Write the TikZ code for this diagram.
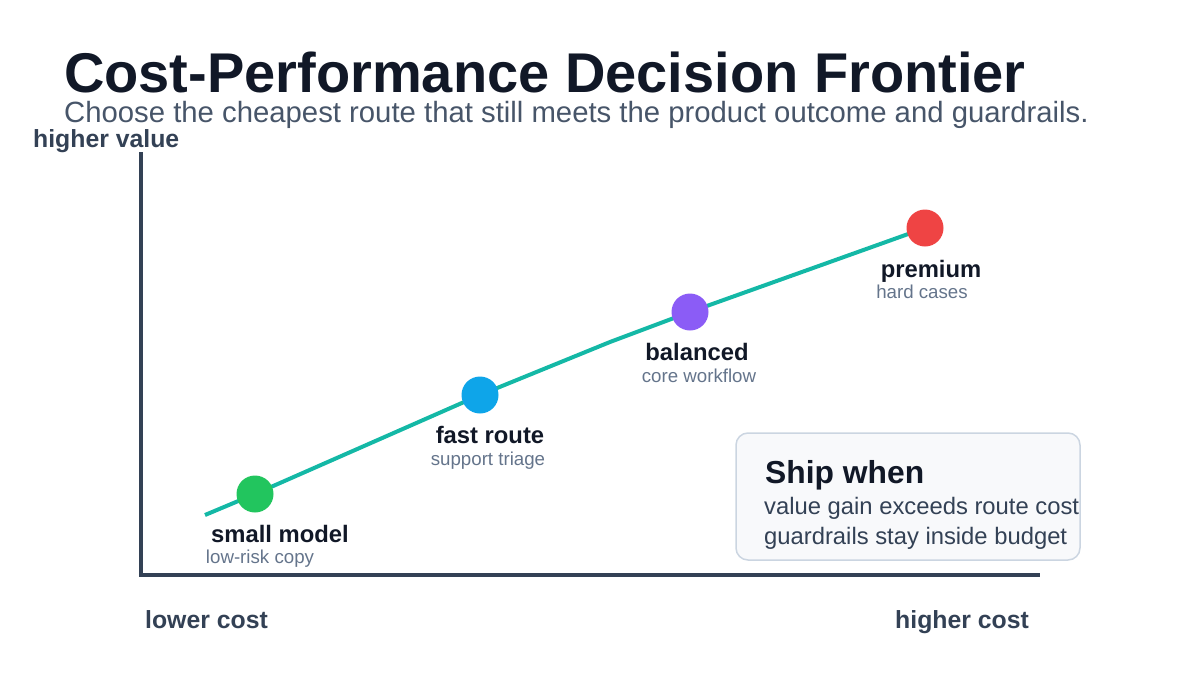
\documentclass[tikz,border=0pt]{standalone}
\usepackage{fontspec}
\setmainfont{Liberation Sans}
\usetikzlibrary{positioning}
\definecolor{ink}{HTML}{111827}
\definecolor{slate}{HTML}{475569}
\definecolor{axis}{HTML}{334155}
\definecolor{muted}{HTML}{64748B}
\definecolor{teal}{HTML}{14B8A6}
\definecolor{boxfill}{HTML}{F8F9FB}
\definecolor{boxline}{HTML}{CBD5E1}
\definecolor{smallc}{HTML}{22C55E}
\definecolor{fastc}{HTML}{0EA5E9}
\definecolor{balc}{HTML}{8B5CF6}
\definecolor{premc}{HTML}{EF4444}
\tikzset{
  dot/.style={circle, inner sep=0pt, minimum size=37pt, fill=#1},
  route/.style={font=\fontsize{23.8}{27}\selectfont\bfseries, text=ink, inner sep=0pt, anchor=base},
  note/.style={font=\fontsize{18.7}{22}\selectfont, text=muted, inner sep=0pt, anchor=base},
  axislabel/.style={font=\fontsize{24.8}{29}\selectfont\bfseries, text=axis, inner sep=0pt, anchor=base west}
}
\begin{document}
\begin{tikzpicture}[x=1pt, y=-1pt]
    \useasboundingbox (0,0) rectangle (1200,675);
    % title
    \node[inner sep=0pt, anchor=base west, text=ink, font=\fontsize{56}{64}\selectfont\bfseries] (title) at (64,92) {Cost-Performance Decision Frontier};
    \node[inner sep=0pt, anchor=base west, text=slate, font=\fontsize{29.3}{34}\selectfont] (subtitle) at (64,122) {Choose the cheapest route that still meets the product outcome and guardrails.};
    % axes
    \coordinate (top) at (141,152);
    \coordinate (origin) at (141,575);
    \coordinate (right) at (1040,575);
    \draw[axis, line width=4.5pt] (top) -- (origin) -- (right);
    \node[axislabel] (yl) at (33,147) {higher value};
    \node[axislabel] (xl) at (145,628) {lower cost};
    \node[axislabel] (xh) at (895,628) {higher cost};
    % frontier
    \coordinate (start) at (205,515);
    \coordinate (bend) at (610,342);
    \path (255,494) coordinate (smp) (480,395) coordinate (frp)
          (690,312) coordinate (balp) (925,228) coordinate (prp);
    \draw[teal, line width=4pt] (start) -- (smp) -- (frp) -- (bend) -- (balp) -- (prp);
    \node[dot=smallc] (sm) at (smp) {};
    \node[dot=fastc] (fr) at (frp) {};
    \node[dot=balc] (bal) at (balp) {};
    \node[dot=premc] (pr) at (prp) {};
    % labels
    \node[route] (smt) at (280,542) {small model};
    \node[note] (sms) at (260,563) {low-risk copy};
    \node[route] (frt) at (490,443) {fast route};
    \node[note] (frs) at (488,465) {support triage};
    \node[route] (balt) at (697,360) {balanced};
    \node[note] (bals) at (699,382) {core workflow};
    \node[route] (prt) at (931,277) {premium};
    \node[note] (prs) at (922,298) {hard cases};
    % ship box
    \draw[boxline, fill=boxfill, line width=1.5pt, rounded corners=12pt] (736,433) rectangle (1080,560);
    \node[inner sep=0pt, anchor=base west, text=ink, font=\fontsize{31.8}{36}\selectfont\bfseries] (ship) at (765,483) {Ship when};
    \node[inner sep=0pt, anchor=base west, text=axis, font=\fontsize{23.8}{27}\selectfont] (c1) at (764,514) {value gain exceeds route cost};
    \node[inner sep=0pt, anchor=base west, text=axis, font=\fontsize{23.8}{27}\selectfont] (c2) at (764,544) {guardrails stay inside budget};
\end{tikzpicture}
\end{document}
